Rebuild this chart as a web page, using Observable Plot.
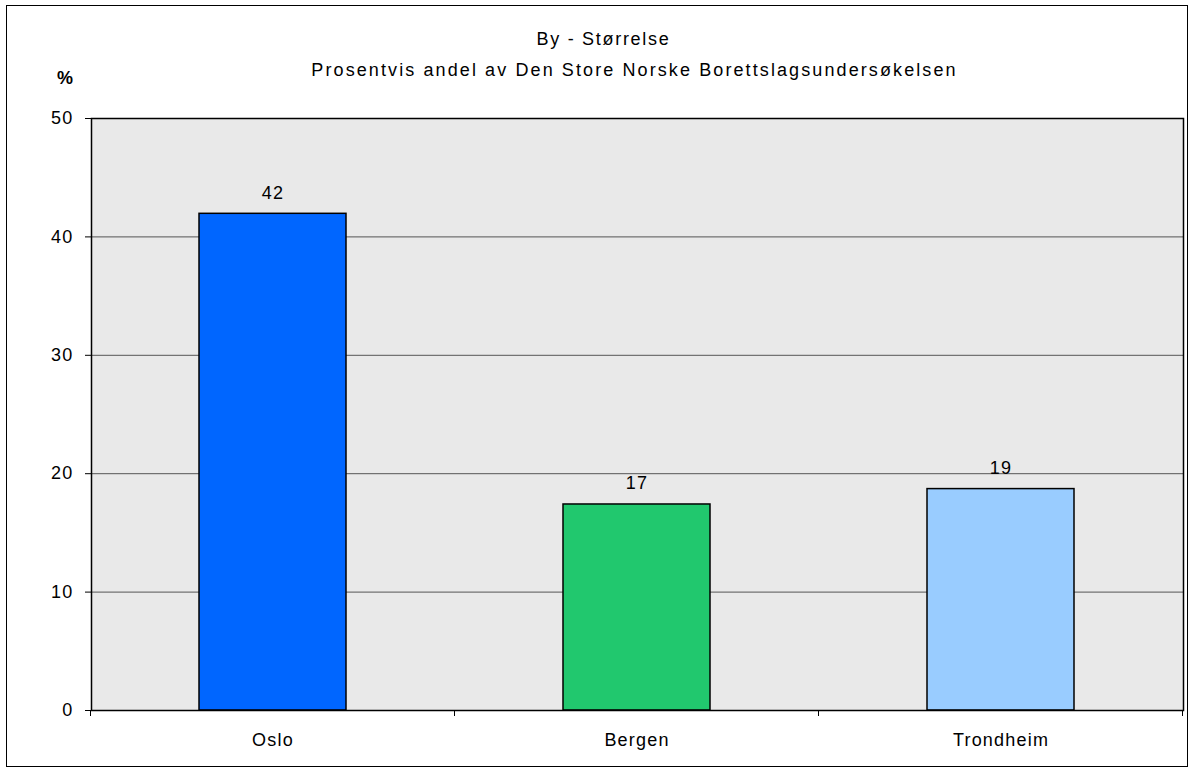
<!DOCTYPE html>
<html>
<head>
<meta charset="utf-8">
<script src="https://cdn.jsdelivr.net/npm/d3@7"></script>
<script src="https://cdn.jsdelivr.net/npm/@observablehq/plot@0.6"></script>
<style>
  html, body { margin: 0; padding: 0; background: #fff; }
  #wrap { position: relative; width: 1194px; height: 773px; font-family: "Liberation Sans", Arial, sans-serif; }
  #border { position: absolute; left: 6px; top: 5px; width: 1180px; height: 760px; border: 1px solid #000; pointer-events: none; }
  svg { display: block; }
</style>
</head>
<body>
<div id="wrap"><div id="border"></div></div>
<script>
const title = "By - Størrelse";
const subtitle = "Prosentvis andel av Den Store Norske Borettslagsundersøkelsen";
const yLabel = "%";
const categories = ["Oslo", "Bergen", "Trondheim"];
const values = [41.95, 17.4, 18.7];
const colors = ["#0066ff", "#21c86e", "#99ccff"];
const yTicks = [0, 10, 20, 30, 40, 50];
const gridTicks = [10, 20, 30, 40];

const data = categories.map((c, i) => ({city: c, value: values[i], color: colors[i]}));
const fmt = d3.format(".0f");

function boundaryTicks(index, scales, vals, dimensions) {
  const {width, height, marginLeft, marginRight, marginBottom} = dimensions;
  const x = scales.x;
  const n = categories.length;
  let step;
  if (typeof x.step === "function") step = x.step();
  else step = (width - marginLeft - marginRight) / n;
  let bw = typeof x.bandwidth === "function" ? x.bandwidth() : (typeof x.bandwidth === "number" ? x.bandwidth : step * 0.405);
  const gap = (step - bw) / 2;
  const xs = categories.map(c => x(c) - gap);
  xs.push(x(categories[n - 1]) + bw + gap);
  const y0 = height - marginBottom;
  const g = d3.create("svg:g");
  for (const xv of xs) {
    g.append("line").attr("x1", xv).attr("x2", xv).attr("y1", y0).attr("y2", y0 + 6)
      .attr("stroke", "#000").attr("stroke-width", 1);
  }
  return g.node();
}

const chart = Plot.plot({
  width: 1194,
  height: 773,
  marginTop: 118,
  marginRight: 11,
  marginBottom: 63,
  marginLeft: 91,
  style: {fontFamily: "'Liberation Sans', Arial, sans-serif", fontSize: "18px", color: "#000", background: "transparent"},
  x: {domain: categories, paddingInner: 0.595, paddingOuter: 0.2975, align: 0.5, label: null},
  y: {domain: [0, 50], label: null},
  marks: [
    Plot.frame({fill: "#e9e9e9"}),
    Plot.gridY(gridTicks, {stroke: "#555", strokeOpacity: 1, strokeWidth: 1}),
    Plot.barY(data, {x: "city", y: "value", fill: "color", stroke: "#000", strokeWidth: 1.5}),
    Plot.frame({stroke: "#000", strokeWidth: 1.5}),
    Plot.text(data, {x: "city", y: "value", text: d => fmt(d.value), dy: -21, fontSize: 18, fill: "#000"}),
    Plot.axisY({ticks: yTicks, tickSize: 6, tickPadding: 12, fontSize: 18, stroke: "#000", label: null, tickFormat: d3.format("d")}),
    Plot.axisX({tickSize: 0, tickPadding: 23, fontSize: 18, label: null}),
    boundaryTicks,
    Plot.text([title], {frameAnchor: "top", dx: -34, dy: -86, fontSize: 18, fill: "#000", className: "ttl"}),
    Plot.text([subtitle], {frameAnchor: "top", dx: -3, dy: -55, fontSize: 18, fill: "#000", className: "sub"}),
    Plot.text([yLabel], {frameAnchor: "top-left", textAnchor: "middle", dx: -26, dy: -47, fontSize: 18, fontWeight: "bold", fill: "#000"})
  ]
});
const sel = d3.select(chart);
sel.selectAll("text").style("letter-spacing", "1.2px");
sel.selectAll(".ttl text").style("letter-spacing", "1.7px");
sel.selectAll(".sub text").style("letter-spacing", "2.1px");
document.getElementById("wrap").prepend(chart);
</script>
</body>
</html>
